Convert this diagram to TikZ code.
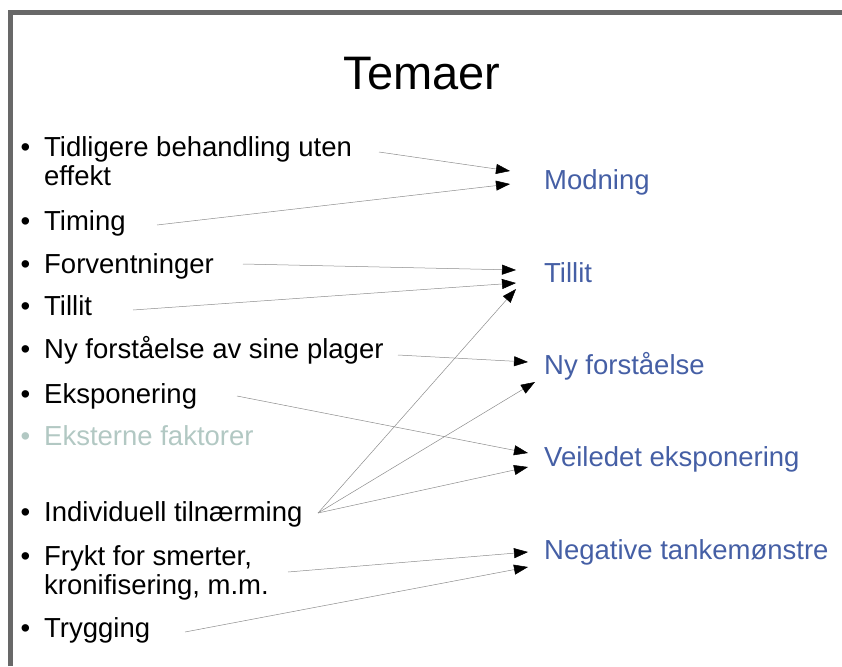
\documentclass[tikz,border=0pt]{standalone}
\usepackage{fontspec}
\setmainfont{Liberation Sans}
\usepackage{xcolor}
\usetikzlibrary{arrows.meta}
\definecolor{framegray}{RGB}{104,104,104}
\definecolor{themeblue}{RGB}{69,95,165}
\definecolor{fadedgreen}{RGB}{178,200,195}
\definecolor{linkgray}{RGB}{140,140,140}
\newcommand{\bul}{\llap{\textbullet\hspace{14pt}}}

\begin{document}
\begin{tikzpicture}[x=1pt, y=-1pt,
  itembox/.style={anchor=base west, inner sep=0pt, align=left,
                  font=\fontsize{27.5}{29}\selectfont},
  themebox/.style={itembox, text=themeblue},
  titlebox/.style={anchor=base, inner sep=0pt, font=\fontsize{47}{50}\selectfont},
  link/.style={draw=linkgray, line width=0.5pt,
               -{Triangle[length=14pt, width=10pt, color=black]}}
]
\useasboundingbox (0,0) rectangle (842,666);

%% Frame
\draw[framegray, line width=5pt] (10.5,666) -- (10.5,12.5) -- (842,12.5);

%% Title
\node[titlebox] (title) at (422,90) {Temaer};

%% Left list (two-line items sit on their last baseline)
\node[itembox] (tidl)    at (44,185) {\bul Tidligere behandling uten\\effekt};
\node[itembox] (timing)  at (44,230) {\bul Timing};
\node[itembox] (forv)    at (44,273) {\bul Forventninger};
\node[itembox] (tillitL) at (44,315) {\bul Tillit};
\node[itembox] (nyfL)    at (44,358) {\bul Ny forståelse av sine plager};
\node[itembox] (ekspL)   at (44,403) {\bul Eksponering};
\node[itembox, text=fadedgreen] (ekst) at (44,445) {\bul Eksterne faktorer};
\node[itembox] (indiv)   at (44,521) {\bul Individuell tilnærming};
\node[itembox] (frykt)   at (44,594) {\bul Frykt for smerter,\\kronifisering, m.m.};
\node[itembox] (tryg)    at (44,637) {\bul Trygging};

%% Themes
\node[themebox] (modn)    at (544,189) {Modning};
\node[themebox] (tillitR) at (544,282) {Tillit};
\node[themebox] (nyfR)    at (544,374) {Ny forståelse};
\node[themebox] (veil)    at (544,466) {Veiledet eksponering};
\node[themebox] (neg)     at (544,559) {Negative tankemønstre};

%% Line ends
\coordinate (tidl-o)   at (379,152);
\coordinate (timing-o) at (157,225);
\coordinate (forv-o)   at (243,264);
\coordinate (tillit-o) at (133,310);
\coordinate (nyf-o)    at (398,355);
\coordinate (eksp-o)   at (237,396);
\coordinate (indiv-o)  at (318,513);
\coordinate (frykt-o)  at (288,572);
\coordinate (tryg-o)   at (185,632);

\coordinate (modn-a)   at (510,171);
\coordinate (modn-b)   at (510,184);
\coordinate (tillit-a) at (516,270);
\coordinate (tillit-b) at (516,283);
\coordinate (tillit-c) at (516,289);
\coordinate (nyf-a)    at (528,362);
\coordinate (nyf-b)    at (535,382);
\coordinate (veil-a)   at (528,453);
\coordinate (veil-b)   at (528,467);
\coordinate (neg-a)    at (528,552);
\coordinate (neg-b)    at (528,567);

%% Arrows
\draw[link] (tidl-o)   -- (modn-a);
\draw[link] (timing-o) -- (modn-b);
\draw[link] (forv-o)   -- (tillit-a);
\draw[link] (tillit-o) -- (tillit-b);
\draw[link] (indiv-o)  -- (tillit-c);
\draw[link] (nyf-o)    -- (nyf-a);
\draw[link] (indiv-o)  -- (nyf-b);
\draw[link] (eksp-o)   -- (veil-a);
\draw[link] (indiv-o)  -- (veil-b);
\draw[link] (frykt-o)  -- (neg-a);
\draw[link] (tryg-o)   -- (neg-b);

\end{tikzpicture}
\end{document}
